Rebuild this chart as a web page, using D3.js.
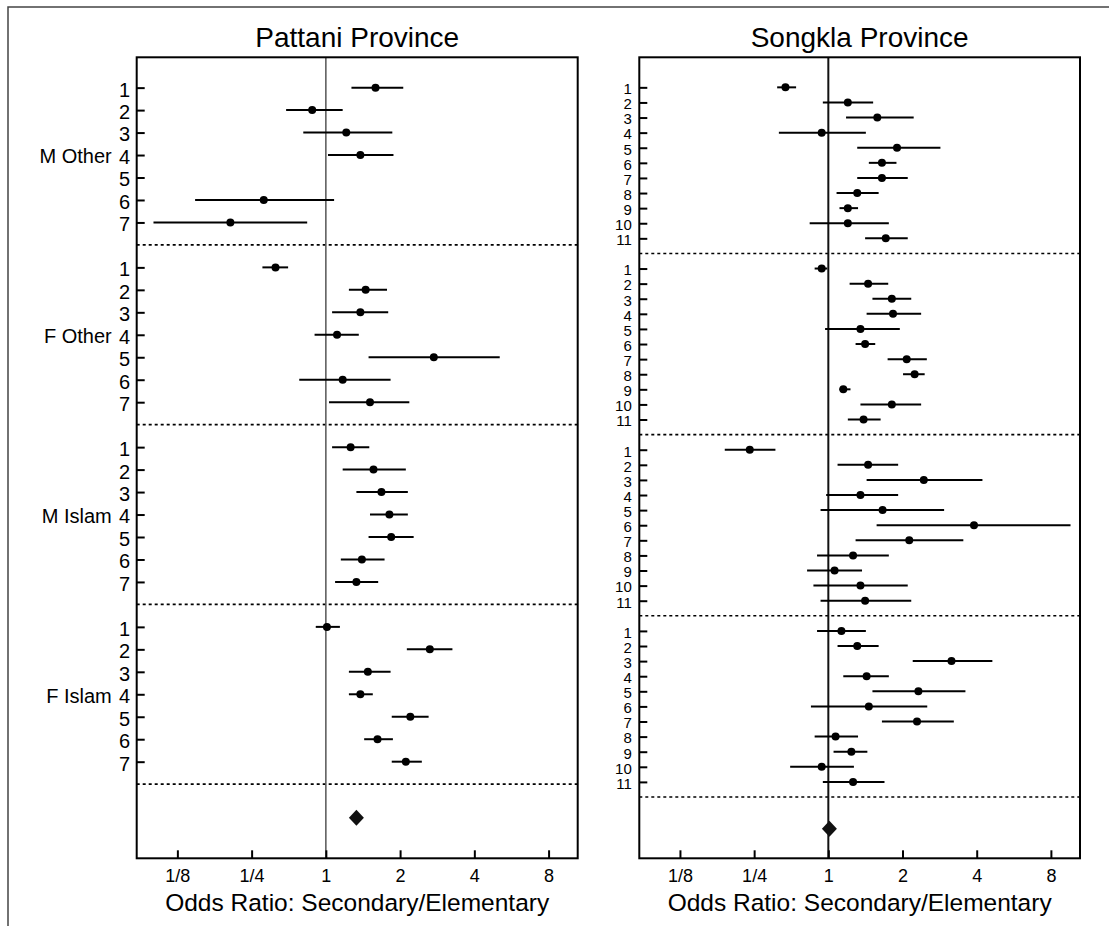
<!DOCTYPE html>
<html>
<head>
<meta charset="utf-8">
<script src="https://cdn.jsdelivr.net/npm/d3@7"></script>
<style>
	body { margin: 0; background: #fff; }
	svg { display: block; }
	text { font-family: "Liberation Sans", Arial, Helvetica, sans-serif; }
</style>
</head>
<body>
<div id="chart"></div>
<script>
(function () {

	'use strict';

	// x axis: ticks sit at equal log2 steps, labels as printed on the figure
	var xTickValues = [0.25, 0.5, 1, 2, 4, 8];
	var xTickLabels = ['1/8', '1/4', '1', '2', '4', '8'];

	// Pattani: 4 groups x 7 rows
	var pattaniGroups = ['M Other', 'F Other', 'M Islam', 'F Islam'];
	var pattaniRows = ['1', '2', '3', '4', '5', '6', '7'];
	var pattaniOR = [
		[1.59, 0.88, 1.21, 1.38, null, 0.56, 0.41],
		[0.625, 1.45, 1.38, 1.11, 2.74, 1.17, 1.51],
		[1.26, 1.56, 1.68, 1.81, 1.84, 1.40, 1.33],
		[1.01, 2.64, 1.48, 1.38, 2.20, 1.62, 2.11]
	];
	var pattaniLo = [
		[1.27, 0.69, 0.81, 1.02, null, 0.295, 0.20],
		[0.553, 1.24, 1.06, 0.90, 1.49, 0.78, 1.03],
		[1.06, 1.17, 1.33, 1.51, 1.49, 1.15, 1.09],
		[0.91, 2.13, 1.24, 1.24, 1.85, 1.43, 1.85]
	];
	var pattaniHi = [
		[2.06, 1.17, 1.86, 1.88, null, 1.08, 0.84],
		[0.703, 1.77, 1.79, 1.36, 5.07, 1.83, 2.18],
		[1.50, 2.11, 2.15, 2.15, 2.27, 1.73, 1.63],
		[1.14, 3.26, 1.83, 1.55, 2.61, 1.87, 2.45]
	];
	var pattaniOverall = 1.33;

	// Songkla: 4 groups x 11 rows, no group names printed
	var songklaGroups = ['', '', '', ''];
	var songklaRows = ['1', '2', '3', '4', '5', '6', '7', '8', '9', '10', '11'];
	var songklaOR = [
		[0.67, 1.20, 1.58, 0.94, 1.90, 1.65, 1.65, 1.31, 1.20, 1.20, 1.71],
		[0.94, 1.45, 1.81, 1.83, 1.35, 1.41, 2.08, 2.24, 1.15, 1.81, 1.39],
		[0.48, 1.45, 2.44, 1.35, 1.66, 3.90, 2.13, 1.26, 1.06, 1.35, 1.41],
		[1.13, 1.31, 3.16, 1.43, 2.32, 1.46, 2.29, 1.07, 1.24, 0.94, 1.26]
	];
	var songklaLo = [
		[0.62, 0.95, 1.18, 0.63, 1.31, 1.46, 1.31, 1.08, 1.11, 0.84, 1.41],
		[0.88, 1.22, 1.51, 1.43, 0.97, 1.29, 1.74, 2.01, 1.11, 1.35, 1.20],
		[0.38, 1.09, 1.43, 0.98, 0.93, 1.57, 1.29, 0.90, 0.82, 0.87, 0.93],
		[0.90, 1.09, 2.20, 1.15, 1.51, 0.85, 1.65, 0.88, 1.05, 0.70, 0.95]
	];
	var songklaHi = [
		[0.74, 1.52, 2.22, 1.42, 2.85, 1.89, 2.10, 1.60, 1.32, 1.76, 2.10],
		[0.99, 1.75, 2.17, 2.38, 1.95, 1.55, 2.51, 2.46, 1.23, 2.38, 1.63],
		[0.61, 1.92, 4.22, 1.92, 2.95, 9.61, 3.53, 1.76, 1.37, 2.10, 2.17],
		[1.42, 1.60, 4.63, 1.76, 3.60, 2.52, 3.23, 1.32, 1.44, 1.27, 1.69]
	];
	var songklaOverall = 1.01;

	var width = 1109;
	var height = 926;
	var plotTop = 57.3;
	var plotBottom = 858.3;
	var xDomain = [0.171, 10.5];

	var panels = [
		{
			title: 'Pattani Province',
			left: 136.7, right: 577.7,
			groups: pattaniGroups, rows: pattaniRows,
			or: pattaniOR, lo: pattaniLo, hi: pattaniHi, overall: pattaniOverall,
			yDomain: [-0.35, 35.3], diamondGap: 1.49,
			labelSize: 20, labelPad: 6.5, labelDy: '0.42em',
			refColor: '#555', refWidth: 1.5
		},
		{
			title: 'Songkla Province',
			left: 639.3, right: 1080,
			groups: songklaGroups, rows: songklaRows,
			or: songklaOR, lo: songklaLo, hi: songklaHi, overall: songklaOverall,
			yDomain: [-0.99, 52.06], diamondGap: 2.1,
			labelSize: 15, labelPad: 7.5, labelDy: '0.42em',
			refColor: '#111', refWidth: 2
		}
	];

	var svg = d3.select('#chart')
		.append('svg')
		.attr('width', width)
		.attr('height', height);

	// outer frame (top and left edges only are visible)
	svg.append('path')
		.attr('d', 'M8,' + height + 'V7H' + width)
		.attr('fill', 'none')
		.attr('stroke', '#444')
		.attr('stroke-width', 1.5);

	panels.forEach(drawPanel);

	function drawPanel(p) {
		var n = p.rows.length;
		var slot = n + 1;

		var x = d3.scaleLog()
			.base(2)
			.domain(xDomain)
			.range([p.left, p.right]);

		var y = d3.scaleLinear()
			.domain(p.yDomain)
			.range([plotTop, plotBottom]);

		var g = svg.append('g');

		// flatten rows
		var points = [];
		var tickIdx = [];
		var tickText = [];
		p.groups.forEach(function (name, gi) {
			p.rows.forEach(function (r, ri) {
				var idx = gi * slot + ri + 1;
				tickIdx.push(idx);
				tickText.push(r);
				if (p.or[gi][ri] !== null) {
					points.push({
						idx: idx,
						or: p.or[gi][ri],
						lo: p.lo[gi][ri],
						hi: p.hi[gi][ri]
					});
				}
			});
		});

		// dotted separators
		var seps = p.groups.map(function (d, gi) { return (gi + 1) * slot; });
		g.selectAll('.sep')
			.data(seps)
			.enter()
			.append('line')
			.attr('x1', p.left)
			.attr('x2', p.right)
			.attr('y1', function (d) { return y(d); })
			.attr('y2', function (d) { return y(d); })
			.attr('stroke', '#000')
			.attr('stroke-width', 1.6)
			.style('stroke-dasharray', ('3, 3'));

		// reference line at 1
		g.append('line')
			.attr('x1', x(1))
			.attr('x2', x(1))
			.attr('y1', plotTop)
			.attr('y2', plotBottom)
			.attr('stroke', p.refColor)
			.attr('stroke-width', p.refWidth);

		g.selectAll('.ci')
			.data(points)
			.enter()
			.append('line')
			.attr('x1', function (d) { return x(d.lo); })
			.attr('x2', function (d) { return x(d.hi); })
			.attr('y1', function (d) { return y(d.idx); })
			.attr('y2', function (d) { return y(d.idx); })
			.attr('stroke', '#000')
			.attr('stroke-width', 2);

		g.selectAll('.pt')
			.data(points)
			.enter()
			.append('circle')
			.attr('cx', function (d) { return x(d.or); })
			.attr('cy', function (d) { return y(d.idx); })
			.attr('r', 4)
			.attr('fill', '#000');

		// overall estimate
		var dy = y(seps[seps.length - 1] + p.diamondGap);
		var dx = x(p.overall);
		g.append('path')
			.attr('d', 'M' + dx + ',' + (dy - 8) + 'L' + (dx + 7.5) + ',' + dy +
				'L' + dx + ',' + (dy + 8) + 'L' + (dx - 7.5) + ',' + dy + 'Z')
			.attr('fill', '#111');

		// frame
		g.append('rect')
			.attr('x', p.left)
			.attr('y', plotTop)
			.attr('width', p.right - p.left)
			.attr('height', plotBottom - plotTop)
			.attr('fill', 'none')
			.attr('stroke', '#000')
			.attr('stroke-width', 2);

		var xAxis = g.append('g')
			.attr('transform', 'translate(0,' + plotBottom + ')')
			.call(d3.axisBottom(x)
				.tickValues(xTickValues)
				.tickFormat(function (d, i) { return xTickLabels[i]; })
				.tickSizeInner(-8)
				.tickSizeOuter(0)
				.tickPadding(10.5));
		xAxis.select('.domain').remove();
		xAxis.selectAll('line').attr('stroke-width', 2);
		xAxis.selectAll('text')
			.attr('font-size', 18)
			.style('font-family', '"Liberation Sans", Arial, sans-serif');

		var yAxis = g.append('g')
			.attr('transform', 'translate(' + p.left + ',0)')
			.call(d3.axisLeft(y)
				.tickValues(tickIdx)
				.tickFormat(function (d, i) { return tickText[i]; })
				.tickSizeInner(-8)
				.tickSizeOuter(0)
				.tickPadding(p.labelPad));
		yAxis.select('.domain').remove();
		yAxis.selectAll('line').attr('stroke-width', 2);
		yAxis.selectAll('text')
			.attr('font-size', p.labelSize)
			.attr('dy', p.labelDy)
			.style('font-family', '"Liberation Sans", Arial, sans-serif');

		// group names beside row 4
		g.selectAll('.grp')
			.data(p.groups.filter(function (d) { return d !== ''; }))
			.enter()
			.append('text')
			.attr('x', p.left - 25)
			.attr('y', function (d, gi) { return y(gi * slot + 4); })
			.attr('dy', '0.42em')
			.attr('text-anchor', 'end')
			.attr('font-size', p.labelSize)
			.text(function (d) { return d; });

		g.append('text')
			.attr('x', (p.left + p.right) / 2)
			.attr('y', 47.3)
			.attr('text-anchor', 'middle')
			.attr('font-size', 28)
			.text(p.title);

		g.append('text')
			.attr('x', (p.left + p.right) / 2)
			.attr('y', 910.7)
			.attr('text-anchor', 'middle')
			.attr('font-size', 24.5)
			.text('Odds Ratio: Secondary/Elementary');
	}

})();
</script>
</body>
</html>
